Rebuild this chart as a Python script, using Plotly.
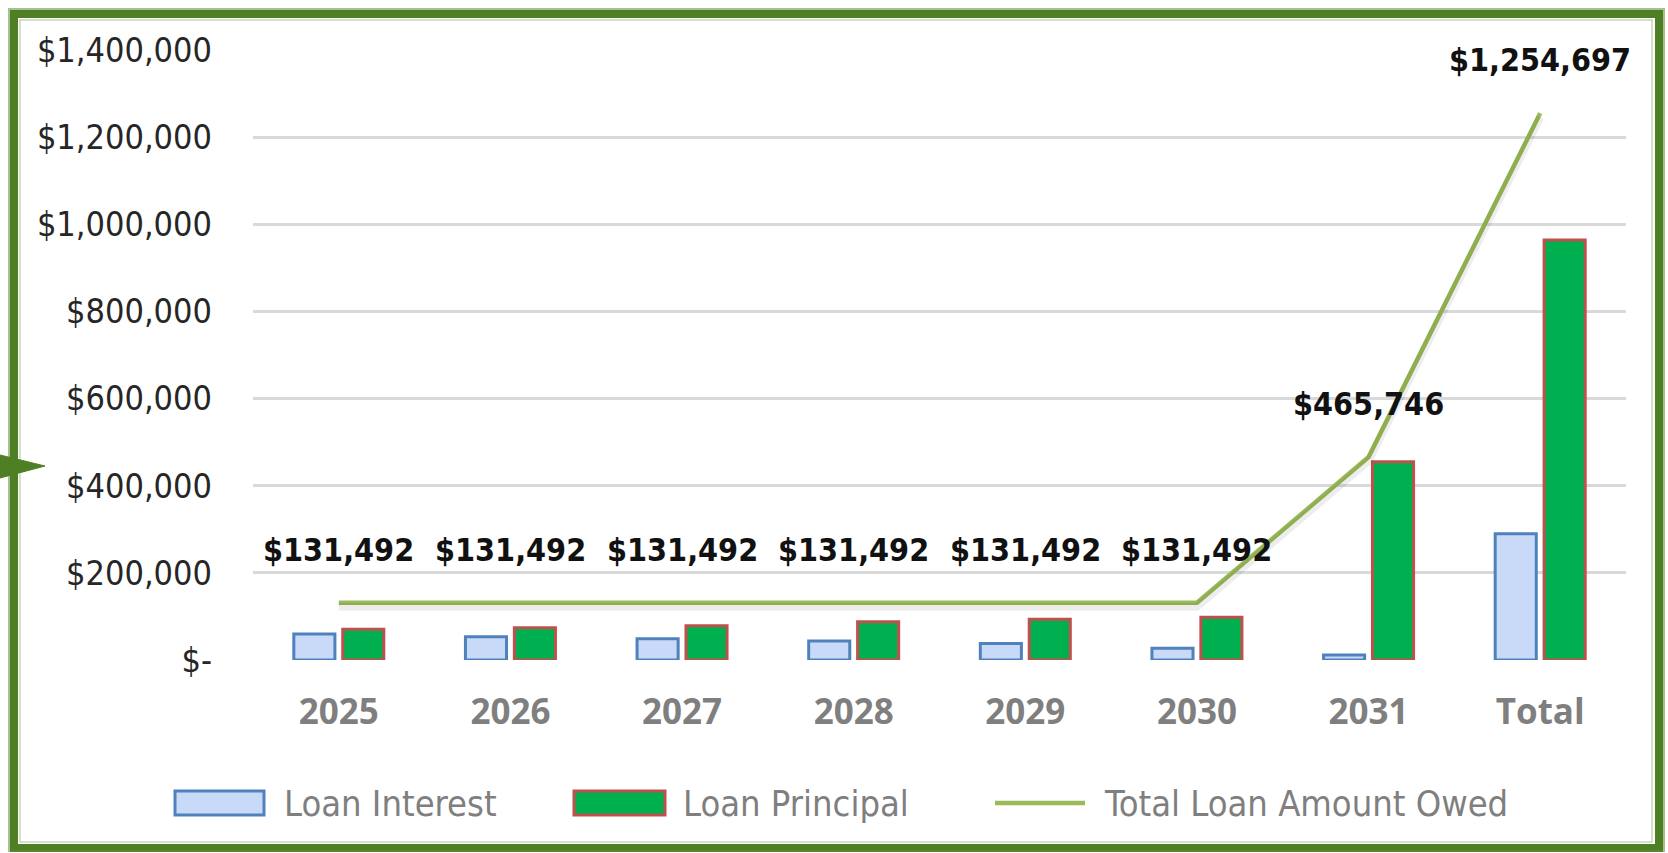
import plotly.graph_objects as go

categories = ["2025", "2026", "2027", "2028", "2029", "2030", "2031", "Total"]
loan_interest = [59700, 53500, 48900, 43600, 38000, 26800, 11500, 289700]
loan_principal = [70400, 74000, 78700, 88000, 93400, 98000, 455000, 964000]
total_owed = [131492, 131492, 131492, 131492, 131492, 131492, 465746, 1254697]
total_labels = ["$131,492", "$131,492", "$131,492", "$131,492", "$131,492", "$131,492", "$465,746", "$1,254,697"]
y_tickvals = [0, 200000, 400000, 600000, 800000, 1000000, 1200000, 1400000]
y_ticktext = ["$-", "$200,000", "$400,000", "$600,000", "$800,000", "$1,000,000", "$1,200,000", "$1,400,000"]

W, H = 1668, 853
L, R, T, B = 253, 1626, 50, 660
YMAX = 1400000

NARROW = "Liberation Sans Narrow, Arial Narrow, Noto Sans ExtraCondensed, Noto Sans Condensed, DejaVu Sans Condensed, sans-serif"
BOLDX = "Open Sans, Calibri, Carlito, sans-serif"


def px(x):
    return (x - L) / (R - L)


def py(y):
    return (B - y) / (B - T)


shadow_d = 4 * YMAX / (B - T)

fig = go.Figure()
fig.add_trace(go.Bar(
    x=categories, y=loan_interest, name="Loan Interest",
    marker=dict(color="#C9DAF9", line=dict(color="#4F81BD", width=3)),
    showlegend=False,
))
fig.add_trace(go.Bar(
    x=categories, y=loan_principal, name="Loan Principal",
    marker=dict(color="#00B050", line=dict(color="#C0504D", width=3)),
    showlegend=False,
))
# soft shadow of the line
fig.add_trace(go.Scatter(
    x=categories, y=total_owed, yaxis="y2", mode="lines",
    line=dict(color="rgba(0,0,0,0.07)", width=8),
    hoverinfo="skip", showlegend=False,
))
fig.add_trace(go.Scatter(
    x=categories, y=total_owed, name="Total Loan Amount Owed", mode="lines",
    line=dict(color="#9BBB59", width=4.5),
    showlegend=False,
))

annotations = []
for i, (v, t) in enumerate(zip(total_owed, total_labels)):
    annotations.append(dict(
        x=i, y=v, xref="x", yref="y", text=t, showarrow=False,
        yshift=53, font=dict(family=NARROW, size=32, color="#111111", weight="bold"),
    ))

# custom legend
legend_items = [
    (175, 264, "rect", "#C9DAF9", "#4F81BD", 282, "Loan Interest"),
    (574, 665, "rect", "#00B050", "#C0504D", 681, "Loan Principal"),
    (995, 1085, "line", None, "#9BBB59", 1102, "Total Loan Amount Owed"),
]
shapes = []
for x0, x1, kind, fill, edge, tx, label in legend_items:
    if kind == "rect":
        shapes.append(dict(type="rect", xref="paper", yref="paper",
                           x0=px(x0), x1=px(x1), y0=py(815), y1=py(791),
                           fillcolor=fill, line=dict(color=edge, width=3)))
    else:
        shapes.append(dict(type="line", xref="paper", yref="paper",
                           x0=px(x0), x1=px(x1), y0=py(803), y1=py(803),
                           line=dict(color=edge, width=4.5)))
    annotations.append(dict(x=px(tx), y=py(803), xref="paper", yref="paper",
                            xanchor="left", yanchor="middle", text=label, showarrow=False,
                            font=dict(family=NARROW, size=36, color="#7F7F7F")))

# hand-drawn style green frame
G = "#4F7F24"
shapes.append(dict(type="rect", xref="paper", yref="paper",
                   x0=px(14), x1=px(1659), y0=py(848), y1=py(14),
                   line=dict(color=G, width=8)))
shapes.append(dict(type="rect", xref="paper", yref="paper",
                   x0=px(9), x1=px(1664), y0=py(851), y1=py(9),
                   line=dict(color="rgba(95,140,50,0.55)", width=2)))
shapes.append(dict(type="rect", xref="paper", yref="paper",
                   x0=px(20), x1=px(1652), y0=py(842), y1=py(20),
                   line=dict(color="rgba(95,140,50,0.35)", width=1.5)))
shapes.append(dict(type="path", xref="paper", yref="paper",
                   path=f"M {px(0)} {py(455)} L {px(45)} {py(466)} L {px(0)} {py(478)} Z",
                   fillcolor=G, line=dict(color=G, width=1)))

fig.update_layout(
    width=W, height=H,
    margin=dict(l=L, r=W - R, t=T, b=H - B, autoexpand=False),
    paper_bgcolor="white", plot_bgcolor="white",
    barmode="group", bargap=0.43, bargroupgap=0.16,
    showlegend=False,
    xaxis=dict(
        type="category", categoryorder="array", categoryarray=categories,
        range=[-0.5, len(categories) - 0.5],
        showgrid=False, zeroline=False, showline=False, ticks="",
        tickfont=dict(family=BOLDX, size=35, color="#7F7F7F", weight="bold"),
        ticklabelstandoff=28,
    ),
    yaxis=dict(
        range=[0, YMAX], tickvals=y_tickvals, ticktext=y_ticktext,
        showgrid=True, gridcolor="#D9D9D9", gridwidth=2.5,
        zeroline=False, showline=False, ticks="",
        tickfont=dict(family=NARROW, size=34, color="#262626"),
        ticklabelstandoff=40,
    ),
    yaxis2=dict(
        overlaying="y", range=[shadow_d, YMAX + shadow_d],
        visible=False, showgrid=False,
    ),
    shapes=shapes,
    annotations=annotations,
)

fig.write_html(
    "out.html",
    config={"displayModeBar": False},
    post_script="document.body.style.margin='0';document.body.style.overflow='hidden';",
)
